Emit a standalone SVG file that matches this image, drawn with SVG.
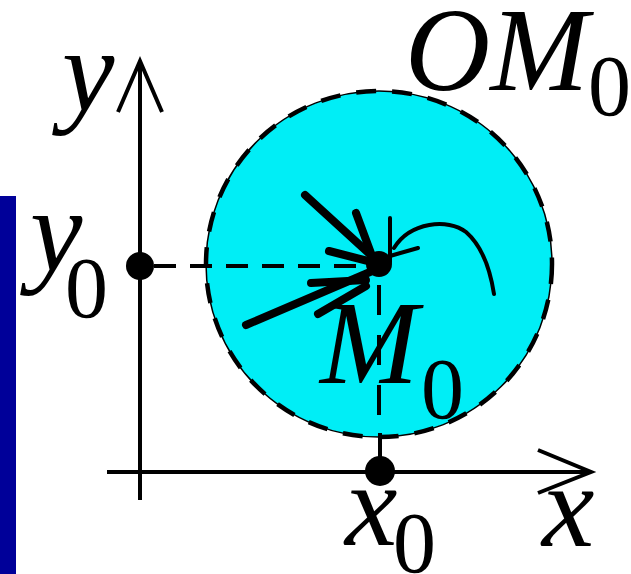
<svg xmlns="http://www.w3.org/2000/svg" width="631" height="574" viewBox="0 0 631 574">
<style>
.t{font-family:"Liberation Serif","Times New Roman",serif;fill:#000}
.it{font-style:italic;font-size:118px}
.sub{font-size:86px}
.ax{stroke:#000;stroke-width:4;fill:none;stroke-linecap:butt}
.thick{stroke:#000;stroke-width:8;stroke-linecap:round;fill:none}
.thin{stroke:#000;stroke-width:4;stroke-linecap:round;fill:none}
.dash{stroke:#000;stroke-width:4;fill:none}
</style>
<rect width="631" height="574" fill="#fff"/>
<rect id="sidebar" x="0" y="196" width="16" height="378" fill="#000099"/>
<g id="region">
<circle cx="379" cy="264" r="173" fill="#00EEF6" stroke="#000" stroke-width="1.5"/>
<circle cx="379" cy="264" r="173" fill="none" stroke="#000" stroke-width="4.5" stroke-dasharray="20 16"/>
</g>
<g id="connectors">
<line class="ax" x1="140" y1="500" x2="140" y2="61"/>
<polyline class="ax" points="118,112 140,61 162,112"/>
<line class="ax" x1="107" y1="472" x2="591" y2="472"/>
<polyline class="ax" points="538,450 591,472 538,493"/>
<line class="dash" x1="154" y1="266" x2="368" y2="266" stroke-dasharray="22 14"/>
<line class="dash" x1="379" y1="285" x2="379" y2="435" stroke-dasharray="30 20"/>
<line class="ax" x1="380" y1="433" x2="380" y2="470"/>
<line class="thick" x1="305" y1="195" x2="374" y2="258"/>
<line class="thick" x1="356" y1="213" x2="372" y2="256"/>
<line class="thick" x1="329" y1="251" x2="372" y2="262"/>
<line class="thick" x1="246" y1="325" x2="370" y2="272"/>
<line class="thick" x1="311" y1="283" x2="366" y2="280"/>
<line class="thick" x1="318" y1="314" x2="366" y2="286"/>
<circle cx="379" cy="264" r="13" fill="#000"/>
<line class="thin" x1="390" y1="218" x2="390" y2="262"/>
<line class="thin" x1="418" y1="248" x2="390" y2="256"/>
<path class="thin" d="M394,248 C410,222 448,218 466,232 C482,246 490,268 494,294"/>
</g>
<g id="y0">
<circle cx="140" cy="266" r="14" fill="#000"/>
<text class="t it" x="30" y="271">y</text>
<text class="t sub" x="65" y="317">0</text>
</g>
<g id="x0">
<circle cx="380" cy="471" r="15" fill="#000"/>
<text class="t it" x="345" y="545">x</text>
<text class="t sub" x="393" y="572">0</text>
</g>
<g id="ylabel"><text class="t it" x="62" y="111">y</text></g>
<g id="xlabel"><text class="t it" x="542" y="546">x</text></g>
<g id="OM0">
<text class="t it" x="405" y="90">OM</text>
<text class="t sub" x="588" y="115">0</text>
</g>
<g id="M0">
<text class="t it" x="320" y="383">M</text>
<text class="t sub" x="421" y="418">0</text>
</g>
</svg>
